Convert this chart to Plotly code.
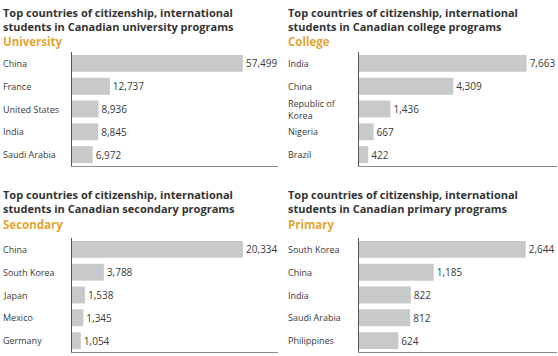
import plotly.graph_objects as go

W, H = 558, 356

# ---- data ----
uni_countries = ["China", "France", "United States", "India", "Saudi Arabia"]
uni_values = [57499, 12737, 8936, 8845, 6972]

col_countries = ["India", "China", "Republic of<br>Korea", "Nigeria", "Brazil"]
col_values = [7663, 4309, 1436, 667, 422]

sec_countries = ["China", "South Korea", "Japan", "Mexico", "Germany"]
sec_values = [20334, 3788, 1538, 1345, 1054]

pri_countries = ["South Korea", "China", "India", "Saudi Arabia", "Philippines"]
pri_values = [2644, 1185, 822, 812, 624]

titles = [
    "Top countries of citizenship, international<br>students in Canadian university programs",
    "Top countries of citizenship, international<br>students in Canadian college programs",
    "Top countries of citizenship, international<br>students in Canadian secondary programs",
    "Top countries of citizenship, international<br>students in Canadian primary programs",
]
subtitles = ["University", "College", "Secondary", "Primary"]

FONT = "Open Sans"
BAR = "#c8c9cb"
ORANGE = "#e5a533"
TXT = "#3a3a3a"

panels = [
    # countries, values, x-domain px, y-domain px (top,bottom), range max, text left px, title top px
    (uni_countries, uni_values, (72, 278), (52, 166), 69300, 1, 3),
    (col_countries, col_values, (359, 557), (52, 166), 9050, 286, 3),
    (sec_countries, sec_values, (72, 278), (238, 352), 24480, 1, 185),
    (pri_countries, pri_values, (359, 557), (238, 352), 3140, 286, 185),
]

fig = go.Figure()
annotations = []
layout = {}
for i, (cats, vals, (x0, x1), (yt, yb), rmax, tx, ty) in enumerate(panels):
    n = "" if i == 0 else str(i + 1)
    xa, ya = "x" + n, "y" + n
    fig.add_trace(go.Bar(
        x=vals, y=cats, orientation="h", xaxis=xa, yaxis=ya,
        marker=dict(color=BAR, line=dict(width=0)),
        text=vals, texttemplate="%{x:,}", textposition="outside",
        textfont=dict(family=FONT, size=10, color=TXT),
        cliponaxis=False, hoverinfo="skip", showlegend=False,
    ))
    layout["xaxis" + n] = dict(
        domain=[x0 / W, x1 / W], range=[0, rmax], anchor=ya,
        showgrid=False, zeroline=False, showticklabels=False, ticks="",
        showline=True, linecolor="#8a8a8a", linewidth=1, fixedrange=True,
    )
    layout["yaxis" + n] = dict(
        domain=[1 - yb / H, 1 - yt / H], anchor=xa,
        type="category", categoryorder="array", categoryarray=cats,
        autorange=False, range=[len(cats) - 0.5, -0.5],
        showgrid=False, zeroline=False, showticklabels=False, ticks="",
        showline=True, linecolor="#555555", linewidth=1, fixedrange=True,
    )
    for c in cats:
        annotations.append(dict(
            text=c, xref="paper", yref=ya, x=tx / W, y=c,
            xanchor="left", yanchor="middle", showarrow=False, align="left",
            font=dict(family=FONT, size=9, color=TXT),
        ))
    annotations.append(dict(
        text="<b>" + titles[i] + "</b>", xref="paper", yref="paper",
        x=tx / W, y=1 - ty / H, xanchor="left", yanchor="top",
        showarrow=False, align="left",
        font=dict(family=FONT, size=11, color="#333333"),
    ))
    annotations.append(dict(
        text="<b>" + subtitles[i] + "</b>", xref="paper", yref="paper",
        x=tx / W, y=1 - (ty + 39) / H, xanchor="left", yanchor="middle",
        showarrow=False, align="left",
        font=dict(family=FONT, size=11.5, color=ORANGE),
    ))

fig.update_layout(
    width=W, height=H, margin=dict(l=0, r=0, t=0, b=0),
    paper_bgcolor="white", plot_bgcolor="white",
    bargap=0.26, annotations=annotations, **layout,
)
fig.write_html("out.html", config={"displayModeBar": False},
               post_script="document.body.style.margin='0';")
